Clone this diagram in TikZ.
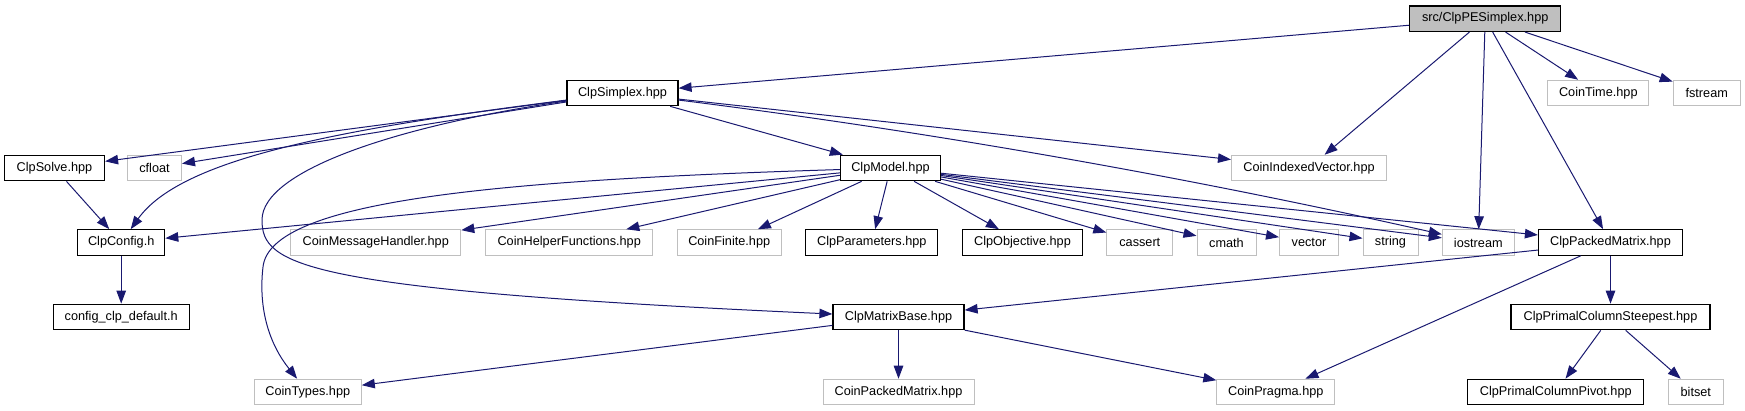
\documentclass[tikz,border=0pt]{standalone}
\usepackage{fontspec}
\setmainfont{Liberation Sans}
\usetikzlibrary{arrows.meta}
\definecolor{bleunuit}{HTML}{191970}
\definecolor{grisclair}{HTML}{BFBFBF}

\begin{document}
\begin{tikzpicture}[x=1pt, y=-1pt,
			boite/.style={rectangle, minimum height=25.5pt, inner sep=0pt, fill=white,
				font=\fontsize{12.7}{14}\selectfont},
			hdr/.style={boite, draw=black, line width=1.2pt},
			ext/.style={boite, draw=grisclair, line width=1pt},
			courant/.style={hdr, fill=grisclair},
			incl/.style={-{Triangle[length=13pt,width=9.5pt]}, color=bleunuit, line width=1pt}]
			
			\useasboundingbox (0,0) rectangle (1745,411);
			
			% Fichier courant
			\node[courant, minimum width=151pt] (root) at (1485.2,18.7) {src/ClpPESimplex.hpp};
			
			% Niveau 1
			\node[hdr, minimum width=111pt] (simplex) at (622.5,93) {ClpSimplex.hpp};
			\node[ext, minimum width=101pt] (cointime) at (1598.3,93) {CoinTime.hpp};
			\node[ext, minimum width=67pt] (fstream) at (1706.7,93) {fstream};
			
			% Niveau 2
			\node[hdr, minimum width=100pt] (solve) at (54.5,168) {ClpSolve.hpp};
			\node[ext, minimum width=54pt] (cfloat) at (154.5,168) {cfloat};
			\node[hdr, minimum width=100pt] (model) at (890.5,168) {ClpModel.hpp};
			\node[ext, minimum width=155pt] (indexed) at (1309,168) {CoinIndexedVector.hpp};
			
			% Niveau 3
			\node[hdr, minimum width=87pt] (config) at (121.2,242.5) {ClpConfig.h};
			\node[ext, minimum width=170pt] (msghandler) at (375.8,242.5) {CoinMessageHandler.hpp};
			\node[ext, minimum width=167pt] (helper) at (569.2,242.5) {CoinHelperFunctions.hpp};
			\node[ext, minimum width=104pt] (finite) at (729.2,242.5) {CoinFinite.hpp};
			\node[hdr, minimum width=132pt] (params) at (871.8,242.5) {ClpParameters.hpp};
			\node[hdr, minimum width=120pt] (objective) at (1022.5,242.5) {ClpObjective.hpp};
			\node[ext, minimum width=66pt] (cassert) at (1139.8,242.5) {cassert};
			\node[ext, minimum width=59pt] (cmath) at (1226.5,242.5) {cmath};
			\node[ext, minimum width=59pt] (vector) at (1309,242.5) {vector};
			\node[ext, minimum width=55pt] (string) at (1390.5,242.5) {string};
			\node[ext, minimum width=72pt] (iostream) at (1478.3,242.5) {iostream};
			\node[hdr, minimum width=144pt] (packed) at (1610.5,242.5) {ClpPackedMatrix.hpp};
			
			% Niveau 4
			\node[hdr, minimum width=136pt] (configdefault) at (121.2,317) {config\_clp\_default.h};
			\node[hdr, minimum width=131pt] (matrixbase) at (898.5,317) {ClpMatrixBase.hpp};
			\node[hdr, minimum width=199pt] (steepest) at (1610.5,317) {ClpPrimalColumnSteepest.hpp};
			
			% Niveau 5
			\node[ext, minimum width=107pt] (cointypes) at (307.8,392) {CoinTypes.hpp};
			\node[ext, minimum width=151pt] (coinpacked) at (898.5,392) {CoinPackedMatrix.hpp};
			\node[ext, minimum width=118pt] (pragma) at (1275.8,392) {CoinPragma.hpp};
			\node[hdr, minimum width=176pt] (pivot) at (1555.8,392) {ClpPrimalColumnPivot.hpp};
			\node[ext, minimum width=55pt] (bitset) at (1695.8,392) {bitset};
			
			% Inclusions du fichier courant
			\foreach \dest in {simplex,indexed,iostream,packed,cointime,fstream} {
				\draw[incl] (root) -- (\dest);
			}
			
			% ClpSimplex.hpp
			\foreach \dest in {solve,cfloat,model,indexed} {
				\draw[incl] (simplex) -- (\dest);
			}
			\draw[incl] (simplex) .. controls (933,132) and (1187,177) .. (iostream);
			\draw[incl] (simplex) .. controls (330,130) and (180,160) .. (config);
			\draw[incl] (simplex) .. controls (400,125) and (262,170) .. (262,220)
			.. controls (262,265) and (300,290) .. (matrixbase);
			
			% ClpModel.hpp
			\foreach \dest in {config,msghandler,helper,finite,params,objective,cassert,cmath,vector,string,iostream,packed} {
				\draw[incl] (model) -- (\dest);
			}
			\draw[incl] (model) .. controls (500,180) and (270,200) .. (263,267)
			.. controls (258,310) and (270,345) .. (cointypes);
			
			% Autres inclusions
			\draw[incl] (solve) -- (config);
			\draw[incl] (config) -- (configdefault);
			\foreach \dest in {matrixbase,pragma,steepest} {
				\draw[incl] (packed) -- (\dest);
			}
			\foreach \dest in {cointypes,coinpacked,pragma} {
				\draw[incl] (matrixbase) -- (\dest);
			}
			\foreach \dest in {pivot,bitset} {
				\draw[incl] (steepest) -- (\dest);
			}
			
		\end{tikzpicture}
\end{document}
